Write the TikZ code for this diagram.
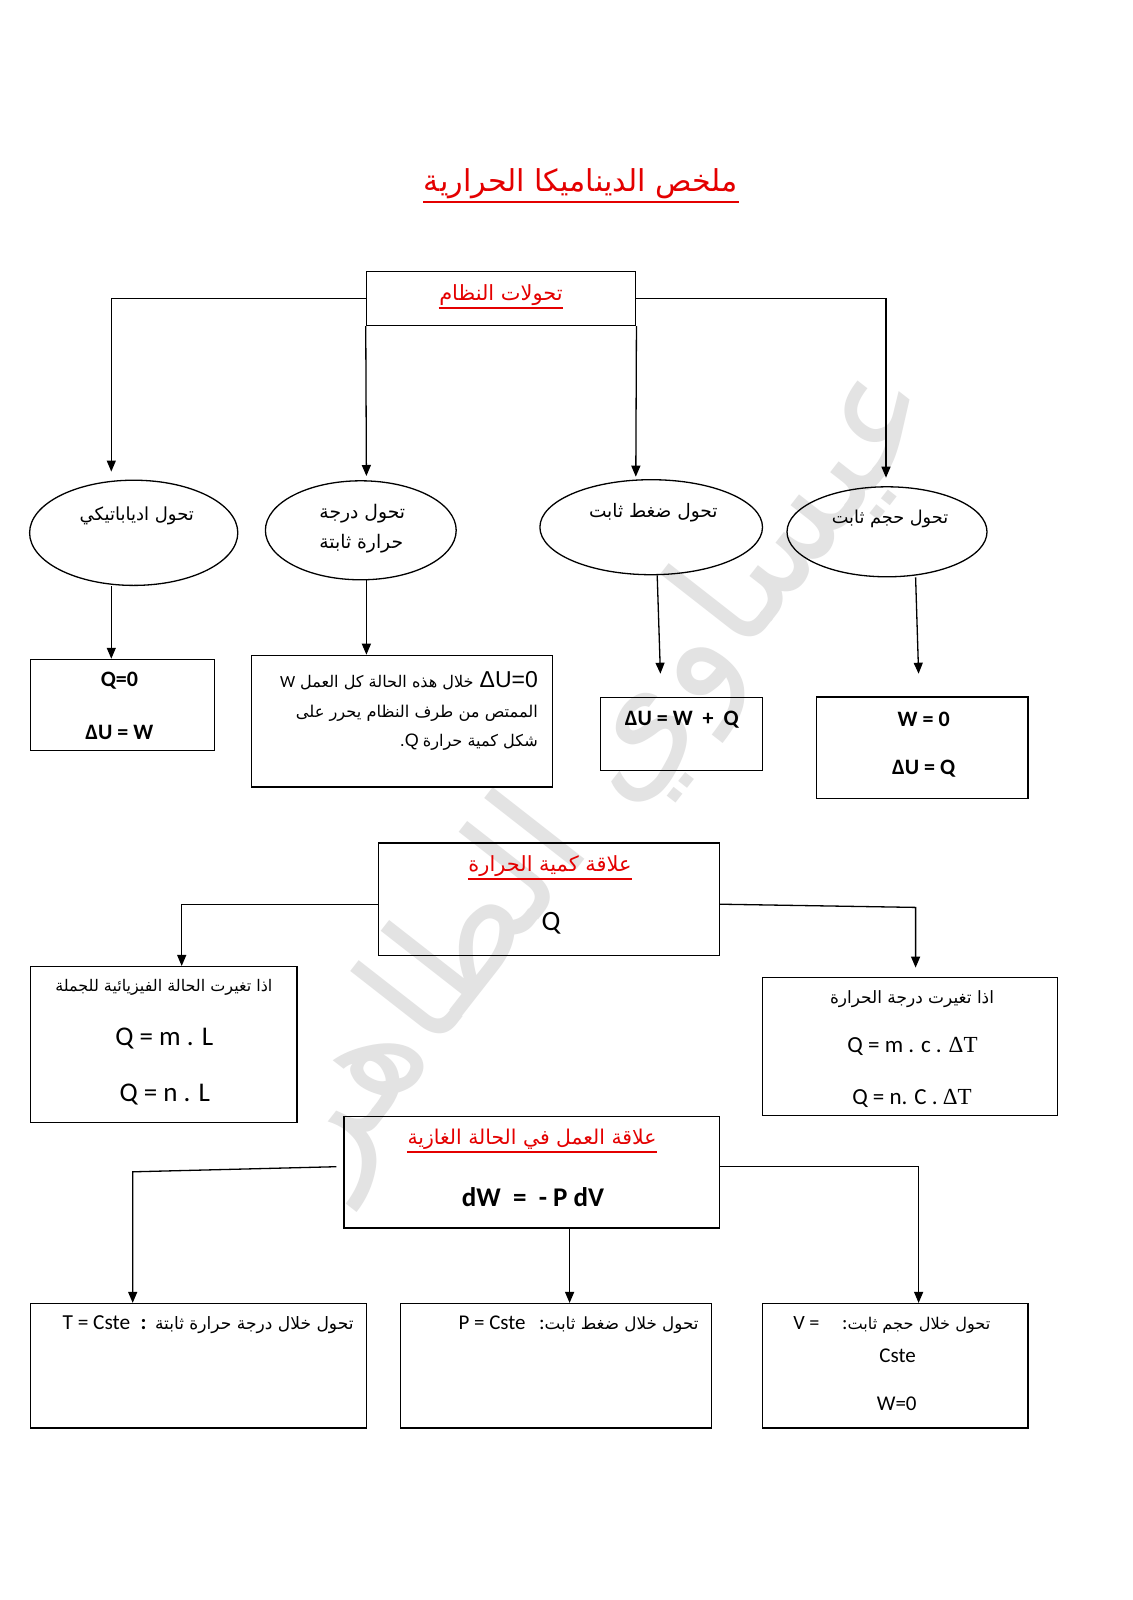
\documentclass[tikz,border=0pt]{standalone}
\usepackage{fontspec}
\usepackage{graphicx}
\setmainfont{Carlito}
\newfontfamily\arfont[Script=Arabic]{DejaVu Sans}
\newfontfamily\arialf{Liberation Sans}
\newfontfamily\serf{Liberation Serif}
\TeXXeTstate=1
\usetikzlibrary{arrows.meta,shapes.geometric,calc}
\definecolor{tred}{RGB}{228,0,0}
\newcommand\AR[2]{\resizebox{#1pt}{!}{\arfont\beginR #2\endR}}
\newcommand\fs[1]{\fontsize{#1}{#1}\selectfont}
\begin{document}
\begin{tikzpicture}[x=1pt,y=-1pt,
  line width=1.3pt,
  box/.style={draw,rectangle,inner sep=0pt},
  ell/.style={draw,ellipse,inner sep=0pt},
  arr/.style={-{Triangle[length=11pt,width=9pt]}},
  txt/.style={inner sep=0pt,anchor=center},
  ul/.style={draw=tred,line width=1.3pt}
]
\path[use as bounding box,fill=white] (0,0) rectangle (1132,1600);

% watermark
\node[txt,rotate=52,text=black!11] (wm) at (605,770) {\resizebox{990pt}{!}{\arfont\beginR عيساوي الطاهر\endR}};

% title
\node[txt,text=tred] (title) at (581,184) {\AR{314}{ملخص الديناميكا الحرارية}};
\draw[ul] (title.west |- 0,202) -- (title.east |- 0,202);

% top box
\node[box,minimum width=269.4pt,minimum height=54.1pt] (T1) at (501.1,298.5) {};
\node[txt,text=tred] (T1t) at (501,295) {\AR{123.5}{تحولات النظام}};
\draw[ul] (T1t.west |- 0,308) -- (T1t.east |- 0,308);

% ellipses
\node[ell,minimum width=208.2pt,minimum height=105.2pt] (e1) at (133.7,532.8) {};
\node[txt] (e1t) at (136.8,516) {\AR{114.3}{تحول ادياباتيكي}};
\node[ell,minimum width=190.8pt,minimum height=99pt] (e2) at (360.8,530.3) {};
\node[txt] (e2a) at (362.3,514) {\AR{85.7}{تحول درجة}};
\node[txt] (e2b) at (361.3,543.5) {\AR{83.7}{حرارة ثابتة}};
\node[ell,minimum width=222.6pt,minimum height=95pt] (e3) at (651.2,527.2) {};
\node[txt] (e3t) at (653.3,513) {\AR{128.6}{تحول ضغط ثابت}};
\node[ell,minimum width=200pt,minimum height=90pt] (e4) at (887,531.8) {};
\node[txt] (e4t) at (890,519) {\AR{116.4}{تحول حجم ثابت}};

% connectors from top box
\coordinate (a1) at (111.3,471.6);
\coordinate (a2) at (366.4,476);
\coordinate (a3) at (635.8,476.7);
\coordinate (a4) at (886,477.7);
\draw[arr] (T1.west) -| (a1);
\draw[arr] (T1.south west) -- (a2);
\draw[arr] (T1.south east) -- (a3);
\draw[arr] (T1.east) -| (a4);

% row 2 boxes
\node[box,minimum width=183.7pt,minimum height=90.8pt] (A) at (122.5,704.8) {};
\node[txt] (At1) at (119.4,680.5) {\fs{22}\bfseries Q=0};
\node[txt] (At2) at (119.4,732.5) {\fs{22}\bfseries ΔU = W};

\node[box,minimum width=301.1pt,minimum height=131.7pt] (B) at (401.7,721.2) {};
\node[txt,anchor=east] (Bt1) at (538.5,680.5) {{\fs{17}W}\hspace{5pt}\AR{173.5}{خلال هذه الحالة كل العمل}\hspace{6pt}{\arialf\fs{23}ΔU=0}};
\node[txt,anchor=east] (Bt2) at (538.5,713.5) {\AR{242}{الممتص من طرف النظام يحرر على}};
\node[txt,anchor=east] (Bt3) at (538.5,742) {{\arialf\fs{18}.Q}\hspace{4pt}\AR{115}{شكل كمية حرارة}};

\node[box,minimum width=162.3pt,minimum height=73.5pt] (C) at (681.3,733.9) {};
\node[txt] (Ct) at (681.8,719.5) {\fs{22}\bfseries ΔU = W \ + \ Q};

\node[box,minimum width=211.3pt,minimum height=101.1pt] (D) at (922.2,747.6) {};
\node[txt] (Dt1) at (923.7,719.5) {\fs{22}\bfseries W = 0};
\node[txt] (Dt2) at (923.7,768.5) {\fs{22}\bfseries ΔU = Q};

% ellipse -> boxes
\coordinate (x1) at (111.3,0);
\coordinate (x2) at (366.4,0);
\coordinate (c3) at (660.4,673.7);
\coordinate (c4) at (918.6,673.7);
\draw[arr] (e1.south -| x1) -- (A.north -| x1);
\draw[arr] (e2.south -| x2) -- (B.north -| x2);
\draw[arr] ($(e3.south)+(6,0)$) -- (c3);
\draw[arr] ($(e4.south)+(28.6,0)$) -- (c4);

% heat box
\node[box,minimum width=340.9pt,minimum height=112.3pt] (Qb) at (549.1,899.2) {};
\node[txt,text=tred] (Qt) at (550,866.5) {\AR{163}{علاقة كمية الحرارة}};
\draw[ul] (Qt.west |- 0,879) -- (Qt.east |- 0,879);
\node[txt] (Qq) at (551,923.5) {\fs{28}Q};

\node[box,minimum width=266.4pt,minimum height=156.2pt] (E) at (163.8,1044.7) {};
\node[txt] (Et1) at (163.8,987) {\AR{217}{اذا تغيرت الحالة الفيزيائية للجملة}};
\node[txt] (Et2) at (164.3,1039) {\fs{27}Q = m . L};
\node[txt] (Et3) at (164.8,1095) {\fs{27}Q = n . L};

\node[box,minimum width=294.9pt,minimum height=137.8pt] (F) at (910,1046.7) {};
\node[txt] (Ft1) at (912,999.2) {\AR{164}{اذا تغيرت درجة الحرارة}};
\node[txt] (Ft2) at (912.5,1046.2) {\fs{23}Q = m . c . {\serf ΔT}};
\node[txt] (Ft3) at (912,1098.3) {\fs{23}Q = n. C . {\serf ΔT}};

\coordinate (xE) at (181.7,0);
\coordinate (f1) at (915.6,907.4);
\coordinate (fE) at (915.6,967.6);
\draw[arr] ($(Qb.west)+(0,5)$) -| (E.north -| xE);
\draw[arr] ($(Qb.east)+(0,5)$) -- (f1) -- (fE);

% work box
\node[box,minimum width=375.6pt,minimum height=111.3pt] (Wb) at (531.8,1172.3) {};
\node[txt,text=tred] (Wt) at (532,1139) {\AR{249}{علاقة العمل في الحالة الغازية}};
\draw[ul] (Wt.west |- 0,1152) -- (Wt.east |- 0,1152);
\node[txt] (Wf) at (533,1197) {\fs{27}\bfseries dW \ = \ - P dV};

% bottom boxes
\node[box,minimum width=335.8pt,minimum height=124.5pt] (G) at (198.5,1365.8) {};
\node[txt,anchor=east] (Gt) at (354.2,1324.8) {\resizebox{291pt}{!}{\fs{12.5}T = Cste\hspace{6pt}{\bfseries :}\hspace{5pt}{\fs{10}\arfont\beginR تحول خلال درجة حرارة ثابتة\endR}}};
\node[box,minimum width=311.3pt,minimum height=124.5pt] (H) at (555.8,1365.8) {};
\node[txt,anchor=east] (Ht) at (699.2,1324.8) {\resizebox{240pt}{!}{\fs{12.5}P = Cste\hspace{8pt}:{\fs{10}\arfont\beginR تحول خلال ضغط ثابت\endR}}};
\node[box,minimum width=265.4pt,minimum height=124.5pt] (I) at (895.2,1365.8) {};
\node[txt,anchor=east] (It1) at (991,1324.8) {\resizebox{197pt}{!}{\fs{12.5}V =\hspace{14pt}:{\fs{10}\arfont\beginR تحول خلال حجم ثابت\endR}}};
\node[txt] (It2) at (897.7,1355.5) {\fs{21}Cste};
\node[txt] (It3) at (896.7,1403.4) {\fs{21}W=0};

\coordinate (xG) at (132.7,0);
\coordinate (wl2) at (132.7,1171.8);
\coordinate (xH) at (569.6,0);
\coordinate (xI) at (918.6,0);
\draw[arr] ($(Wb.west)+(-7,-5.6)$) -- (wl2) -- (G.north -| xG);
\draw[arr] (Wb.south -| xH) -- (H.north -| xH);
\draw[arr] ($(Wb.east)+(0,-5.6)$) -| (I.north -| xI);
\end{tikzpicture}
\end{document}
